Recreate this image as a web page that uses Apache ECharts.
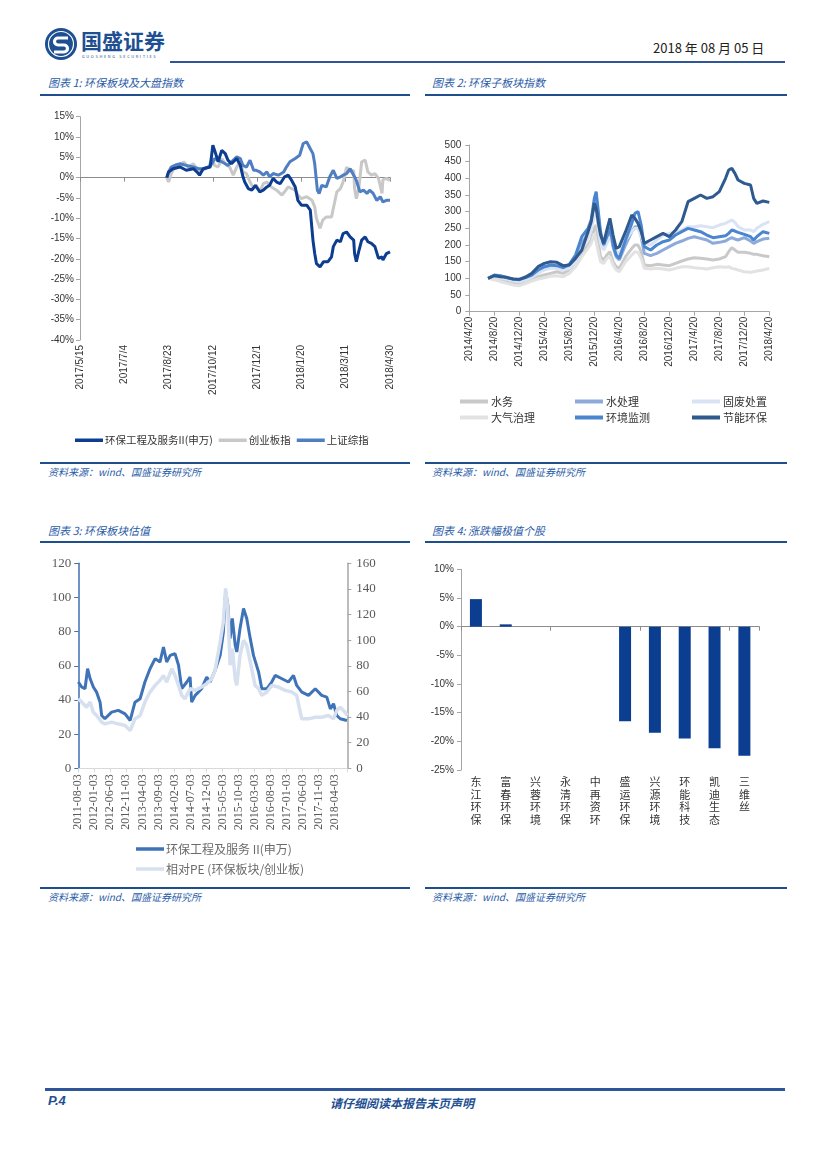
<!DOCTYPE html>
<html><head><meta charset="utf-8">
<script src="https://cdn.jsdelivr.net/npm/echarts/dist/echarts.min.js"></script>
<style>
body{margin:0;background:#fff;}
#page{position:relative;width:827px;height:1169px;overflow:hidden;font-family:"Noto Sans CJK SC",sans-serif;}
.abs{position:absolute;white-space:nowrap;}
.rule{position:absolute;background:#1f4e8c;}
.ttl{position:absolute;font-size:11px;font-style:italic;color:#2a5ca8;white-space:nowrap;line-height:14px;}
.src{position:absolute;font-size:10px;font-style:italic;color:#2a5ca8;white-space:nowrap;line-height:13px;}
#chart{position:absolute;left:0;top:0;width:827px;height:1169px;}
</style></head>
<body><div id="page">
<svg class="abs" style="left:44px;top:27px" width="34" height="34" viewBox="0 0 34 34">
 <circle cx="17" cy="17" r="16" fill="#1d4f91"/>
 <circle cx="17" cy="17" r="12.5" fill="none" stroke="#fff" stroke-width="1.2"/>
 <path d="M24 11 H14 a3.5 3.5 0 0 0 0 7 h6 a3.5 3.5 0 0 1 0 7 H10" stroke="#fff" stroke-width="3.2" fill="none"/>
</svg>
<div class="abs" style="left:81px;top:27px;font-size:21px;font-weight:bold;color:#1d4f91;line-height:26px;letter-spacing:0px">国盛证券</div>
<div class="abs" style="left:82px;top:53px;font-size:4px;color:#1d4f91;letter-spacing:1.6px">GUOSHENG SECURITIES</div>
<div class="abs" style="left:653px;top:40px;font-size:13px;color:#222;line-height:16px">2018 年 08 月 05 日</div>
<div class="rule" style="left:170px;top:61px;width:615px;height:2px;background:#2e5597"></div>

<div class="ttl" style="left:48px;top:75px">图表 1:  环保板块及大盘指数</div>
<div class="ttl" style="left:432px;top:75px">图表 2:  环保子板块指数</div>
<div class="rule" style="left:40px;top:94px;width:370px;height:2px"></div>
<div class="rule" style="left:425px;top:94px;width:362px;height:2px"></div>
<div class="rule" style="left:40px;top:462px;width:370px;height:1.5px"></div>
<div class="rule" style="left:425px;top:462px;width:362px;height:1.5px"></div>
<div class="src" style="left:48px;top:465px">资料来源：wind、国盛证券研究所</div>
<div class="src" style="left:432px;top:465px">资料来源：wind、国盛证券研究所</div>

<div class="ttl" style="left:48px;top:523px">图表 3:  环保板块估值</div>
<div class="ttl" style="left:432px;top:523px">图表 4:  涨跌幅极值个股</div>
<div class="rule" style="left:40px;top:541px;width:370px;height:2px"></div>
<div class="rule" style="left:425px;top:541px;width:362px;height:2px"></div>
<div class="rule" style="left:40px;top:887px;width:370px;height:1.5px"></div>
<div class="rule" style="left:425px;top:887px;width:362px;height:1.5px"></div>
<div class="src" style="left:48px;top:890px">资料来源：wind、国盛证券研究所</div>
<div class="src" style="left:432px;top:890px">资料来源：wind、国盛证券研究所</div>

<div class="rule" style="left:45px;top:1088px;width:740px;height:3px;background:#2e5597"></div>
<div class="abs" style="left:48px;top:1093px;font-size:13px;font-weight:bold;font-style:italic;color:#1d4f91;font-family:'Liberation Sans',sans-serif">P.4</div>
<div class="abs" style="left:330px;top:1094px;font-size:12px;font-weight:bold;font-style:italic;color:#1d4f91">请仔细阅读本报告末页声明</div>

<div id="chart"></div>
</div>
<script>
// ---------- Chart 1: 环保板块及大盘指数 (x = days since 2017/5/15, y = %) ----------
const c1Names = ['环保工程及服务II(申万)', '创业板指', '上证综指'];
const c1Sector = [[98,0],[100,1.4],[105,2.2],[113,2.6],[120,1.8],[128,2.2],[132,1.4],[135,0.6],[139,2.2],[147,2.6],[150,8],[152,6.7],[156,3.9],[160,6.7],[164,5.9],[167,4.3],[171,3.4],[177,4.7],[181,3],[184,0.2],[186,-1.1],[190,-2.7],[194,-3.1],[198,-1.9],[203,-3.5],[207,-3.1],[211,-2.3],[214,-1.9],[218,-0.2],[222,-1.1],[226,-1.5],[231,0.2],[235,0.6],[239,-0.7],[243,-2.3],[246,-5.6],[250,-6.8],[256,-6.8],[260,-8],[263,-15.4],[265,-18.7],[267,-21.2],[271,-22],[275,-20.7],[280,-20.7],[284,-19.5],[286,-17],[290,-15.4],[294,-15.8],[297,-13.8],[301,-13.4],[305,-14.6],[309,-15.4],[310,-18.7],[312,-20.7],[315,-17.9],[318,-15.4],[322,-14.6],[325,-15.8],[329,-16.2],[333,-17],[337,-19.9],[341,-19.5],[342,-20.3],[346,-18.7],[350,-18.3]];
const c1ChiNext = [[98,0],[100,-1.1],[103,1],[109,3.4],[113,2.6],[117,3.9],[122,2.6],[128,3.4],[134,1.4],[139,1.8],[145,2.6],[149,4.7],[152,3],[156,2.6],[160,4.7],[164,3.4],[169,2.6],[173,0.6],[177,2.6],[181,3.9],[184,1.4],[188,1],[192,-1.1],[196,-2.7],[199,-1.9],[203,-3.5],[207,-1.5],[211,-1.1],[216,-2.3],[222,-3.1],[228,-4.3],[231,-3.5],[235,-2.3],[239,-2.7],[243,-3.1],[246,-4.3],[250,-5.2],[256,-4.7],[262,-5.6],[265,-7.2],[267,-10.1],[271,-12.5],[274,-10.5],[278,-9.7],[284,-9.7],[286,-7.6],[290,-3.5],[294,-2.7],[297,-1.1],[301,2.6],[305,1.4],[309,1.8],[310,-2.7],[312,-5.2],[315,-2.3],[318,3.9],[322,4.3],[325,1.4],[329,0.6],[333,1],[337,-0.2],[341,-3.9],[342,-0.5],[346,-0.2],[350,-0.7]];
const c1SSE = [[98,0],[100,1.4],[103,2.6],[107,3],[113,3.4],[120,3],[128,2.6],[134,2.2],[139,2.2],[145,2.6],[149,3.4],[152,4.7],[156,4.3],[160,3.9],[164,3.4],[167,3],[171,3.9],[177,5.1],[181,4.7],[184,3],[188,2.6],[192,4.3],[196,1.8],[199,1.8],[203,1.4],[207,0.6],[211,1.4],[214,0.2],[218,1],[224,0.6],[230,1.4],[233,2.6],[237,3.9],[243,4.7],[248,5.5],[252,8.4],[256,8.8],[260,7.1],[263,5.9],[265,3.4],[268,-3.1],[270,-3.9],[273,-1.9],[278,-2.3],[282,0.2],[286,1.8],[290,-0.2],[294,0.2],[297,0.6],[301,1],[305,2.2],[309,0.6],[312,-0.7],[316,-3.5],[320,-3.1],[324,-3.9],[327,-3.1],[331,-3.9],[335,-5.6],[339,-4.7],[342,-6],[346,-5.6],[350,-5.6]];

// ---------- Chart 2: 环保子板块指数 (x = months since 2014/4/20) ----------
const c2Names = ['水务','水处理','固废处置','大气治理','环境监测','节能环保'];
const c2Month = [3,4,5,6,7,8,9,10,11,12,13,14,15,16,17,18,19,19.5,20,20.3,20.7,21,21.5,22,22.5,23,23.5,24,25,26,26.5,27,27.5,28,29,30,31,32,33,34,35,36,37,38,39,40,41,41.5,42,42.5,43,44,45,45.5,46,47,48];
const c2Water = [100,100,95,90,86,84,90,98,105,110,115,120,115,125,150,175,200,215,250,260,200,165,155,170,180,150,135,130,165,190,200,200,180,140,138,142,140,138,145,152,158,162,160,158,155,158,165,180,192,185,178,178,175,172,172,168,165];
const c2Treat = [100,106,104,100,95,93,98,106,118,128,134,132,128,135,160,205,235,260,315,330,265,225,195,215,240,195,165,155,200,240,255,255,225,175,168,175,185,195,205,212,220,225,220,215,205,208,212,218,222,218,215,222,212,205,210,218,220];
const c2Waste = [100,104,100,97,92,90,95,103,115,125,130,130,125,130,150,190,220,245,290,300,240,205,185,205,225,200,180,175,215,240,250,250,225,205,200,215,230,235,240,245,255,255,258,255,252,260,265,270,275,268,255,245,245,240,250,262,270];
const c2Air = [100,96,90,85,80,78,84,92,98,102,106,108,105,115,135,165,190,205,235,240,175,150,145,160,165,140,125,120,150,170,180,178,160,130,128,130,128,125,130,135,135,132,130,128,132,135,133,135,130,128,125,120,118,120,122,125,130];
const c2Monitor = [100,110,108,102,98,96,102,110,125,135,140,138,132,142,170,225,250,275,340,360,290,240,200,225,255,200,170,160,215,265,295,300,260,195,185,200,210,215,230,240,250,245,240,230,222,225,228,235,245,242,238,232,225,215,225,240,235];
const c2Energy = [100,108,105,103,98,97,104,115,135,145,150,148,138,140,160,185,240,270,325,310,260,230,205,245,280,230,190,195,240,290,280,265,240,205,215,225,235,225,245,270,330,340,350,340,345,360,400,425,430,415,395,385,380,340,325,332,328];

// ---------- Chart 3: 环保板块估值 (x = months since 2011-08-03) ----------
const c3Names = ['环保工程及服务 II(申万)', '相对PE (环保板块/创业板)'];
const c3PEMonth = [0,1.05,2.1,2.9,3.7,4.7,5.7,6.8,7.3,8.3,10.4,12.5,14.6,16.2,17.7,19.3,20.8,22.4,24,25.5,26.6,27.6,28.7,30.2,31.3,32.3,33.9,34.9,35.4,36.5,38.5,40.1,41.2,42.7,44.3,45.3,46,46.7,47.4,48.1,49,49.5,50.5,51.6,52.6,53.7,54.7,56.3,57.3,58.9,60.4,61.5,63.6,65.6,67.2,68.2,69.8,71.9,74,76,77.6,78.7,79.7,80.7,81.8,83.9];
const c3PE = [50.5,47.6,46.6,58.3,52.4,47.6,44.6,38.7,30.9,29,32.9,33.9,31.9,28,38.7,40.7,50.5,58.3,64.2,62.2,71,62.2,66.1,67.1,60.3,46.6,50.5,53.4,38.7,42.7,46.6,53.4,50.5,57.3,66.1,79.8,103.3,95.5,75.9,87.7,72,68.1,81.8,93.5,87.7,75.9,66.1,56.4,46.6,46.6,50.5,54.4,52.4,50.5,54.4,48.5,44.6,42.7,46.6,42.7,41.7,34.8,37.8,30.9,29,28];
const c3RelMonth = [0,1.05,2.6,3.7,4.7,5.7,7.3,8.3,10.4,12.5,14.6,16.2,17.7,19.3,20.8,22.4,24,25.5,26.6,27.6,29.2,30.2,31.3,32.3,33.3,34.9,36.5,38.5,40.1,41.7,42.7,44.3,45.3,46,46.7,47.4,48.1,49,49.5,50.5,51.6,52.6,53.7,55.2,56.3,57.3,58.9,60.4,62.5,64.6,66.7,68.2,69.3,69.8,71.9,74,76,78.1,79.7,80.7,81.8,83.3,84];
const c3Rel = [54.3,51.7,47.7,51.7,43.8,41.2,36,34.7,36,34.7,33.4,29.5,38.6,41.2,51.7,59.5,64.7,68.6,72.5,67.3,77.7,72.5,64.7,56.9,54.3,62.1,60.8,63.4,66,69.9,76.4,98.6,114.3,140.4,124.7,80.4,93.4,69.9,64.7,88.2,99.9,96,83,64.7,62.1,56.9,59.5,64.7,63.4,60.8,59.5,56.9,43.8,38.6,38.6,39.9,39.9,41.2,38.6,45.1,47.7,43.8,41.2];

// ---------- Chart 4: 涨跌幅极值个股 ----------
const c4Stocks = ['东江环保','富春环保','兴蓉环境','永清环保','中再资环','盛运环保','兴源环境','环能科技','凯迪生态','三维丝'];
const c4Change = [4.8, 0.4, 0, 0, 0, -16.5, -18.5, -19.5, -21.2, -22.5];

const zip = (xs, ys) => xs.map((x, i) => [x, ys[i]]);
const pad = n => (n < 10 ? '0' : '') + n;
const AX = '#a6a6a6';
const SANS = 'Liberation Sans';
const CJK = 'Noto Sans CJK SC';
const SERIF = 'Liberation Serif';

const chart = echarts.init(document.getElementById('chart'), null, {renderer: 'canvas'});
const line = (name, data, color, w, xi, yi) => ({
  name, type: 'line', data, xAxisIndex: xi, yAxisIndex: yi, showSymbol: false, symbol: 'none',
  lineStyle: {color, width: w}, itemStyle: {color}, animation: false
});

const c2Colors = ['#c9c9c9', '#8eaadb', '#dae3f3', '#e2e2e2', '#4a86cf', '#2f5a8f'];
const c2Data = [c2Water, c2Treat, c2Waste, c2Air, c2Monitor, c2Energy];
const c2LegendPos = [[455,391],[570,391],[687,391],[455,407],[570,407],[687,407]];

const option = {
  animation: false,
  grid: [
    {left: 80, top: 116.7, width: 310, height: 223.3},
    {left: 469.3, top: 145, width: 300, height: 166.7},
    {left: 78.3, top: 563.3, width: 269, height: 205},
    {left: 461, top: 569.3, width: 298.3, height: 200.7}
  ],
  xAxis: [
    {gridIndex: 0, type: 'value', min: 0, max: 350, interval: 50, position: 'bottom',
     axisLine: {show: false, onZero: false}, axisTick: {show: false}, splitLine: {show: false},
     axisLabel: {rotate: 90, fontSize: 10, fontFamily: SANS, color: '#333', margin: 5,
       formatter: v => { const d = new Date(2017, 4, 15 + v); return d.getFullYear() + '/' + (d.getMonth() + 1) + '/' + d.getDate(); }}},
    {gridIndex: 0, type: 'value', min: 0, max: 350, interval: 50, position: 'bottom',
     axisLine: {show: true, onZero: true, lineStyle: {color: '#8c8c8c', width: 1}},
     axisTick: {show: true, length: 4, lineStyle: {color: '#8c8c8c'}}, axisLabel: {show: false}, splitLine: {show: false}},
    {gridIndex: 1, type: 'value', min: 0, max: 48, interval: 4,
     axisLine: {lineStyle: {color: AX}}, axisTick: {length: 4, lineStyle: {color: AX}}, splitLine: {show: false},
     axisLabel: {rotate: 90, fontSize: 10, fontFamily: SANS, color: '#333', margin: 5,
       formatter: v => { const d = new Date(2014, 3 + v, 20); return d.getFullYear() + '/' + (d.getMonth() + 1) + '/' + d.getDate(); }}},
    {gridIndex: 2, type: 'value', min: 0, max: 84, interval: 5,
     axisLine: {lineStyle: {color: '#d9d9d9'}}, axisTick: {length: 4, lineStyle: {color: '#d9d9d9'}}, splitLine: {show: false},
     axisLabel: {rotate: 90, fontSize: 12, fontFamily: SERIF, color: '#595959', margin: 6,
       formatter: v => { if (v % 5 !== 0 || v > 80) return ''; const d = new Date(2011, 7 + v, 3); return d.getFullYear() + '-' + pad(d.getMonth() + 1) + '-03'; }}},
    {gridIndex: 3, type: 'category', data: c4Stocks, position: 'bottom',
     axisLine: {show: false, onZero: false}, axisTick: {show: false},
     axisLabel: {interval: 0, fontSize: 11, fontFamily: CJK, color: '#333', lineHeight: 12.5, margin: 6,
       verticalAlign: 'top', formatter: s => s.split('').join('\n')}},
    {gridIndex: 3, type: 'category', data: c4Stocks, position: 'bottom',
     axisLine: {show: true, onZero: true, lineStyle: {color: '#8c8c8c'}},
     axisTick: {show: true, length: 4, lineStyle: {color: '#8c8c8c'}}, axisLabel: {show: false}}
  ],
  yAxis: [
    {gridIndex: 0, type: 'value', min: -40, max: 15, interval: 5,
     axisLine: {show: true, lineStyle: {color: AX}}, axisTick: {show: true, length: 4, lineStyle: {color: AX}},
     splitLine: {show: false}, axisLabel: {fontSize: 10, fontFamily: SANS, color: '#333', margin: 6, formatter: v => v + '%'}},
    {gridIndex: 1, type: 'value', min: 0, max: 500, interval: 50,
     axisLine: {show: true, lineStyle: {color: AX}}, axisTick: {show: true, length: 4, lineStyle: {color: AX}},
     splitLine: {show: false}, axisLabel: {fontSize: 10, fontFamily: SANS, color: '#333', margin: 8}},
    {gridIndex: 2, type: 'value', min: 0, max: 120, interval: 20, position: 'left',
     axisLine: {show: true, lineStyle: {color: '#3f6fb0', width: 1.5}}, axisTick: {show: true, length: 4, lineStyle: {color: '#3f6fb0'}},
     splitLine: {show: false}, axisLabel: {fontSize: 13, fontFamily: SERIF, color: '#595959', margin: 7}},
    {gridIndex: 2, type: 'value', min: 0, max: 160, interval: 20, position: 'right',
     axisLine: {show: true, lineStyle: {color: '#a6a6a6', width: 1.5}}, axisTick: {show: true, length: 4, lineStyle: {color: '#a6a6a6'}},
     splitLine: {show: false}, axisLabel: {fontSize: 13, fontFamily: SERIF, color: '#595959', margin: 9}},
    {gridIndex: 3, type: 'value', min: -25, max: 10, interval: 5,
     axisLine: {show: true, lineStyle: {color: AX}}, axisTick: {show: true, length: 4, lineStyle: {color: AX}},
     splitLine: {show: false}, axisLabel: {fontSize: 10, fontFamily: SANS, color: '#333', margin: 7, formatter: v => v + '%'}}
  ],
  legend: [
    {data: c1Names, left: 70, top: 430, icon: 'rect', itemWidth: 28, itemHeight: 3.5, itemGap: 6,
     textStyle: {fontSize: 10.5, fontFamily: CJK, color: '#333', padding: [0, 0, 0, -3]}, selectedMode: false},
    {data: [c3Names[0]], left: 131, top: 838, icon: 'rect', itemWidth: 28, itemHeight: 3.5,
     textStyle: {fontSize: 12, fontFamily: CJK, color: '#6b6b6b', padding: [0, 0, 0, -3]}, selectedMode: false},
    {data: [c3Names[1]], left: 131, top: 858, icon: 'rect', itemWidth: 28, itemHeight: 3.5,
     textStyle: {fontSize: 12, fontFamily: CJK, color: '#6b6b6b', padding: [0, 0, 0, -3]}, selectedMode: false}
  ].concat(c2Names.map((n, i) => ({
     data: [n], left: c2LegendPos[i][0], top: c2LegendPos[i][1], icon: 'rect', itemWidth: 28, itemHeight: 4,
     textStyle: {fontSize: 11, fontFamily: CJK, color: '#333', padding: [0, 0, 0, -2]}, selectedMode: false}))),
  series: [
    line(c1Names[1], c1ChiNext, '#c8c8c8', 3, 0, 0),
    line(c1Names[2], c1SSE, '#4f7fc2', 3, 0, 0),
    line(c1Names[0], c1Sector, '#0c3d91', 3, 0, 0)
  ].concat(
    c2Names.map((n, i) => line(n, zip(c2Month, c2Data[i]), c2Colors[i], 3, 2, 1)),
    [
      line(c3Names[0], zip(c3PEMonth, c3PE), '#3f73b8', 3, 3, 2),
      line(c3Names[1], zip(c3RelMonth, c3Rel), '#d6e0ef', 3.5, 3, 3),
      {name: '涨跌幅', type: 'bar', data: c4Change, xAxisIndex: 4, yAxisIndex: 4, barWidth: 12,
       itemStyle: {color: '#0b3d91'}, animation: false}
    ])
};
chart.setOption(option);
</script>
</body></html>
